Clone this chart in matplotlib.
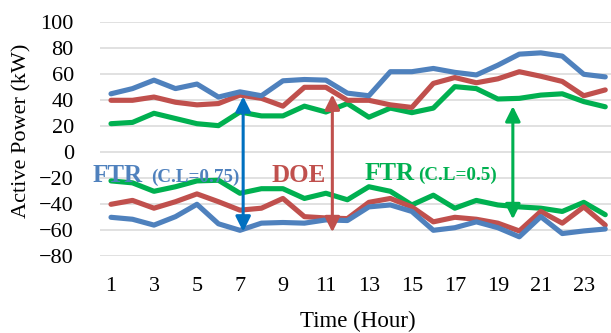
import numpy as np
import matplotlib
matplotlib.use('Agg')
import matplotlib.pyplot as plt

plt.rcParams['font.family'] = ['Liberation Serif', 'DejaVu Serif']

hours = np.arange(1, 25)
xticks = np.arange(1, 24, 2)

# FTR (C.L=0.75) band - blue
ftr75_up = [45, 49, 55.5, 49, 52.5, 42.5, 46.5, 43.5, 55, 56, 55.5, 45.5,
            43.5, 62, 62, 64.5, 61.5, 59.5, 67, 75.5, 76.5, 74, 60, 58]
ftr75_lo = [-50, -51.5, -56, -49.5, -40, -55, -60, -54.5, -54, -54.5, -52, -52.5,
            -42, -40.5, -45.5, -60, -58, -53.5, -58, -65, -49.5, -62.5, -60.5, -59]
# DOE band - red
doe_up = [40, 40, 42.5, 38.5, 36.5, 37.5, 44, 41.5, 35.5, 50, 50, 40,
          40, 36.5, 34.5, 53, 57.5, 53.5, 56.5, 62, 58.5, 54.5, 43.5, 48]
doe_lo = [-40, -37, -43, -38, -32, -38, -44.5, -43, -35.5, -49.5, -50.5, -51,
          -38.5, -35.5, -42, -53.5, -50, -51.5, -54.5, -60.5, -45.5, -54.5, -42, -56]
# FTR (C.L=0.5) band - green
ftr5_up = [22, 23, 30, 26, 22, 20.5, 31, 28, 28, 35.5, 31, 37.5,
           27, 34, 30.5, 34, 50.5, 49, 41, 41.5, 44, 45, 39, 35]
ftr5_lo = [-22, -23.5, -30, -26.5, -22, -21.5, -31.5, -28, -28, -35.5, -31.5, -36.5,
           -26.5, -30, -40.5, -33, -43, -37, -40.5, -42, -43, -45.5, -38.5, -48]

# arrows: (hour, top, bottom)
arrows = [(7.15, 43, -61), (11.3, 44.5, -61.5), (19.7, 35.5, -51.5)]

c_blue = '#4F81BD'
c_red = '#C0504D'
c_green = '#00B050'
c_arrow = ['#0070C0', c_red, c_green]

fig = plt.figure(figsize=(6.11, 3.33), dpi=100)
W, H = 611, 333
left, right = 100.25, 616
top, bot = 22.3, 256.3
ax = fig.add_axes([left / W, 1 - bot / H, (right - left) / W, (bot - top) / H])

for v in np.arange(-80, 101, 20):
    ax.axhline(v, color='#D9D9D9', lw=1.1, zorder=0)

lw = 3.7
kw = dict(lw=lw, solid_capstyle='round', solid_joinstyle='round')
ax.plot(hours, ftr5_up, color=c_green, **kw)
ax.plot(hours, ftr5_lo, color=c_green, **kw)
ax.plot(hours, doe_up, color=c_red, **kw)
ax.plot(hours, doe_lo, color=c_red, **kw)
ax.plot(hours, ftr75_up, color=c_blue, **kw)
ax.plot(hours, ftr75_lo, color=c_blue, **kw)

for (xa, y1, y2), col in zip(arrows, c_arrow):
    ax.annotate('', xy=(xa, y1), xytext=(xa, y2),
                arrowprops=dict(arrowstyle='<|-|>,head_length=0.9,head_width=0.45',
                                color=col, lw=2.2, shrinkA=0, shrinkB=0))

# band labels
ax.text(0.12, -22.5, 'FTR', color=c_blue, fontsize=18, fontweight='bold', va='baseline')
ax.text(2.89, -22.5, '(C.L=0.75)', color=c_blue, fontsize=13.7, fontweight='bold', va='baseline')
ax.text(8.47, -22.5, 'DOE', color=c_red, fontsize=18, fontweight='bold', va='baseline')
ax.text(12.8, -21, 'FTR', color=c_green, fontsize=18, fontweight='bold', va='baseline')
ax.text(15.28, -21, '(C.L=0.5)', color=c_green, fontsize=13.7, fontweight='bold', va='baseline')

ax.set_xlim(0.5, 24.5)
ax.set_ylim(-80, 100)
ax.set_yticks(np.arange(-80, 101, 20))
ax.set_xticks(xticks)
ax.tick_params(axis='both', length=0, labelsize=16)
ax.tick_params(axis='y', pad=19)
ax.tick_params(axis='x', pad=15)
for s in ax.spines.values():
    s.set_visible(False)

ax.set_xlabel('Time (Hour)', fontsize=16.5)
ax.set_ylabel('Active Power (kW)', fontsize=16)
ax.yaxis.set_label_coords(-(left - 22) / (right - left), (bot - 131) / (bot - top))
ax.xaxis.set_label_coords((358 - left) / (right - left), -(321 - bot) / (bot - top))
ax.xaxis.label.set_va('center')
ax.yaxis.label.set_va('center')

fig.savefig('out.png', dpi=100)
